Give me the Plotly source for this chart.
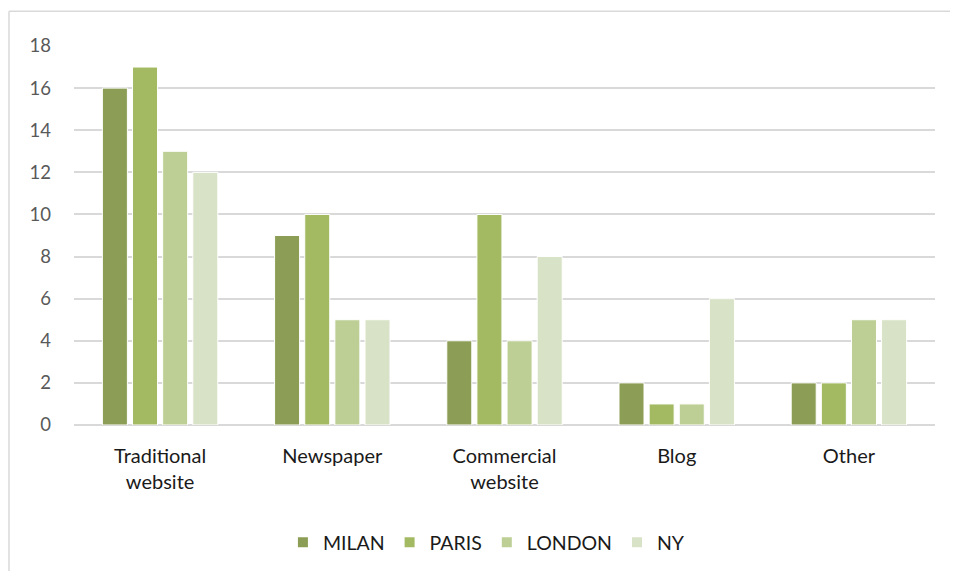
import plotly.graph_objects as go

categories = ["Traditional<br>website", "Newspaper", "Commercial<br>website", "Blog", "Other"]
series_names = ["MILAN", "PARIS", "LONDON", "NY"]
milan = [16, 9, 4, 2, 2]
paris = [17, 10, 10, 1, 2]
london = [13, 5, 4, 1, 5]
ny = [12, 5, 8, 6, 5]
tick_vals = [0, 2, 4, 6, 8, 10, 12, 14, 16, 18]

colors = ["#8C9E55", "#A3BA63", "#BDCF95", "#D8E2C6"]
values = [milan, paris, london, ny]

fig = go.Figure()
for name, vals, col in zip(series_names, values, colors):
    fig.add_trace(go.Bar(
        x=categories, y=vals, name=name,
        marker=dict(color=col, line=dict(color="white", width=1)),
    ))

fig.update_layout(
    width=942, height=563,
    margin=dict(l=66, r=15, t=38, b=146, autoexpand=False),
    paper_bgcolor="white", plot_bgcolor="white",
    barmode="group", bargap=0.30, bargroupgap=0.17,
    font=dict(family="Lato, sans-serif", size=18, color="#404040"),
    xaxis=dict(showgrid=False, showline=False, ticks="", ticklabelstandoff=17,
               tickfont=dict(size=20, color="#1a1a1a")),
    yaxis=dict(range=[0, 18], tickvals=tick_vals, showgrid=True, gridcolor="#D9D9D9",
               gridwidth=1.5, zeroline=True, zerolinecolor="#D9D9D9", zerolinewidth=1.5,
               tickfont=dict(size=18.5, color="#595959"), ticks="", ticklabelstandoff=22,
               fixedrange=True),
    legend=dict(orientation="h", x=0.479, xanchor="center", y=-0.31, yanchor="middle",
                font=dict(size=19.5, color="#1a1a1a"), traceorder="normal",
                itemwidth=30, itemsizing="constant"),
    showlegend=True,
)

# chart frame (top and left edges visible)
fig.add_shape(type="line", xref="paper", yref="paper",
              x0=-0.0755, x1=1.2, y0=1.092, y1=1.092,
              line=dict(color="#D9D9D9", width=1.5), layer="below")
fig.add_shape(type="line", xref="paper", yref="paper",
              x0=-0.0755, x1=-0.0755, y0=-0.6, y1=1.092,
              line=dict(color="#D9D9D9", width=1.5), layer="below")

fig.write_html("out.html")
